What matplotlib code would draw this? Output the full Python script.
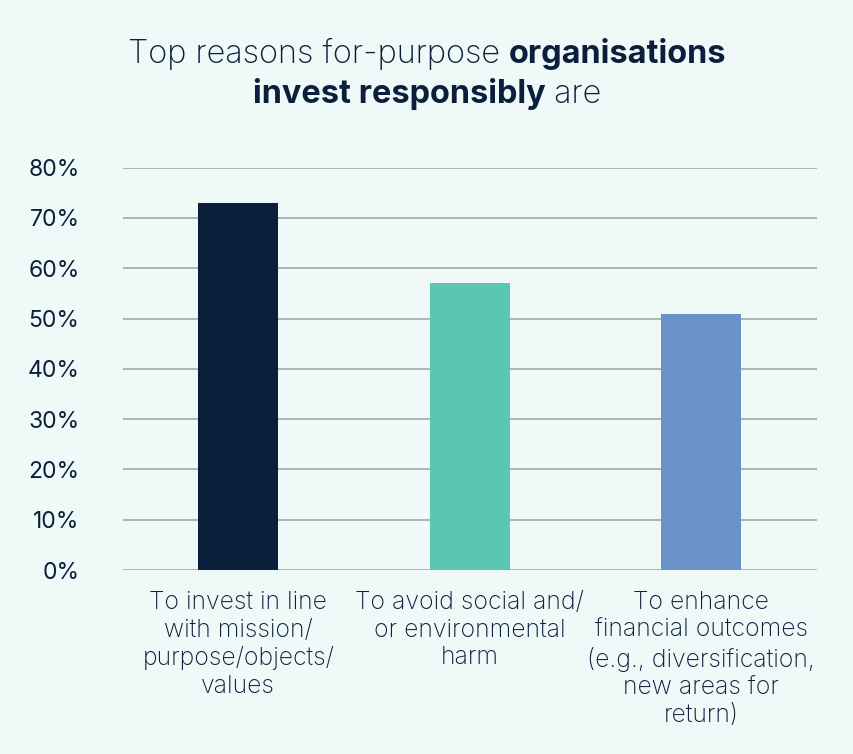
import matplotlib.pyplot as plt
import numpy as np

BG = "#eff9f7"
NAVY = "#0b1f3d"
GRID = "#a3b3b0"

categories = [
    "To invest in line\nwith mission/\npurpose/objects/\nvalues",
    "To avoid social and/\nor environmental\nharm",
    "To enhance\nfinancial outcomes\n(e.g., diversification,\nnew areas for\nreturn)",
]
values = [73, 57, 51]
bar_colors = ["#0b1f3d", "#5cc6b5", "#6a92c8"]
yticks = [0, 10, 20, 30, 40, 50, 60, 70, 80]

plt.rcParams["font.family"] = ["Inter", "DejaVu Sans"]

fig = plt.figure(figsize=(8.54, 7.54), dpi=100, facecolor=BG)
ax = fig.add_axes([0.1436, 0.244, 0.8131, 0.5336], facecolor=BG)

x = np.arange(len(categories))
ax.bar(x, values, width=0.345, color=bar_colors, zorder=3)
ax.set_xlim(-0.5, len(categories) - 0.5)
ax.set_ylim(0, 80)
ax.set_yticks(yticks)
ax.set_yticklabels([f"{v}%" for v in yticks], fontsize=16.5, color=NAVY)
ax.set_xticks(x)
ax.set_xticklabels(categories, fontsize=17.8, color=NAVY, linespacing=1.26,
                   fontweight="light", va="top")
ax.tick_params(axis="y", length=0, pad=31)
ax.tick_params(axis="x", length=0, pad=15)
for v in yticks:
    ax.axhline(v, color=GRID, lw=1.3, zorder=1)
for s in ax.spines.values():
    s.set_visible(False)


def mixed_line(y, parts):
    """Draw a centred title line made of (text, weight) pieces."""
    r = fig.canvas.get_renderer()
    items = [fig.text(0, y, t, fontsize=23.4, fontweight=w, color=NAVY, va="baseline")
             for t, w in parts]
    widths = [it.get_window_extent(r).width / fig.bbox.width for it in items]
    x0 = 0.5 - sum(widths) / 2
    for it, w in zip(items, widths):
        it.set_x(x0)
        x0 += w


mixed_line(1 - 63 / 754, [("Top reasons for-purpose ", "light"), ("organisations", "bold")])
mixed_line(1 - 103 / 754, [("invest responsibly", "bold"), (" are", "light")])

fig.savefig("out.png", dpi=100, facecolor=BG)
